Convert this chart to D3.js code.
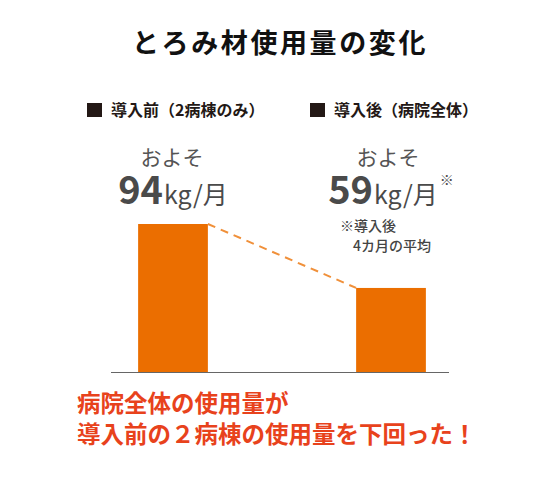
<!DOCTYPE html>
<html lang="ja">
<head>
<meta charset="utf-8">
<script src="https://cdn.jsdelivr.net/npm/d3@7"></script>
<style>
  html, body { margin: 0; padding: 0; background: #fff; }
  svg { display: block; font-family: "Noto Sans CJK JP", "Noto Sans", sans-serif; }
</style>
</head>
<body>
<div id="chart"></div>
<script>
// とろみ材使用量の変化 - 導入前 / 導入後

const categories = ["導入前", "導入後"];
const legendLabels = ["導入前（2病棟のみ）", "導入後（病院全体）"];
const values = [94, 59];
const unit = "kg/月";
const prefix = "およそ";
const marks = ["", "※"];
const noteLines = ["※導入後", "4カ月の平均"];
const title = "とろみ材使用量の変化";
const conclusion = ["病院全体の使用量が", "導入前の２病棟の使用量を下回った！"];

const width = 560;
const height = 480;
const baseY = 372;

const svg = d3.select("#chart").append("svg")
    .attr("width", width)
    .attr("height", height)
    .attr("viewBox", `0 0 ${width} ${height}`);

const xScale = d3.scaleBand()
    .domain(categories)
    .range([64, 500])
    .paddingInner(0.68)
    .paddingOuter(0.34);

// value axis does not start at zero in the original artwork
const yScale = d3.scaleLinear()
    .domain([13, 94])
    .range([baseY, 224]);

// Title
svg.append("text")
    .attr("x", 280)
    .attr("y", 53)
    .attr("text-anchor", "middle")
    .attr("font-size", 27)
    .attr("font-weight", 700)
    .attr("letter-spacing", 2.6)
    .attr("fill", "#111")
    .text(title);

// Legend labels
const legendX = [87, 310];
const legend = svg.selectAll(".legend")
    .data(legendLabels)
    .enter()
    .append("g")
    .attr("class", "legend")
    .attr("transform", (d, i) => `translate(${legendX[i]},0)`);

legend.append("rect")
    .attr("x", 0)
    .attr("y", 103)
    .attr("width", 15)
    .attr("height", 14)
    .attr("fill", "#231815");

legend.append("text")
    .attr("x", 24)
    .attr("y", 116)
    .attr("font-size", 16)
    .attr("font-weight", 700)
    .attr("fill", "#231815")
    .text(d => d);

// Bars
svg.selectAll(".bar")
    .data(values)
    .enter()
    .append("rect")
    .attr("class", "bar")
    .attr("x", (d, i) => xScale(categories[i]))
    .attr("y", d => yScale(d))
    .attr("width", xScale.bandwidth())
    .attr("height", d => baseY - yScale(d))
    .attr("fill", "#eb6e00");

// Dashed connector between bar tops
svg.append("line")
    .attr("x1", xScale(categories[0]) + xScale.bandwidth())
    .attr("y1", yScale(values[0]))
    .attr("x2", xScale(categories[1]))
    .attr("y2", yScale(values[1]))
    .attr("stroke", "#f0903a")
    .attr("stroke-width", 2)
    .attr("stroke-dasharray", "8,6");

// Baseline
svg.append("line")
    .attr("x1", 111)
    .attr("x2", 449)
    .attr("y1", baseY + 0.5)
    .attr("y2", baseY + 0.5)
    .attr("stroke", "#666")
    .attr("stroke-width", 1.2);

// Value labels
const labels = svg.selectAll(".value-label")
    .data(values)
    .enter()
    .append("g")
    .attr("class", "value-label")
    .attr("transform", (d, i) => `translate(${xScale(categories[i]) + xScale.bandwidth() / 2},0)`);

labels.append("text")
    .attr("x", (d, i) => i === 0 ? -1 : -3)
    .attr("y", 165)
    .attr("text-anchor", "middle")
    .attr("font-size", 21)
    .attr("fill", "#555")
    .text(prefix);

const valueText = labels.append("text")
    .attr("x", 0)
    .attr("y", 204)
    .attr("text-anchor", "middle")
    .attr("fill", "#4a4a4a");

valueText.append("tspan")
    .attr("font-size", 38)
    .attr("font-weight", 700)
    .text(d => d);

valueText.append("tspan")
    .attr("font-size", 25)
    .attr("font-weight", 400)
    .attr("dx", 1)
    .text(unit);

valueText.append("tspan")
    .attr("font-size", 14)
    .attr("dx", 2)
    .attr("dy", -19)
    .text((d, i) => marks[i]);

// Footnote
svg.selectAll(".note")
    .data(noteLines)
    .enter()
    .append("text")
    .attr("class", "note")
    .attr("x", (d, i) => i === 0 ? 340 : 353)
    .attr("y", (d, i) => 231 + i * 20)
    .attr("font-size", 14)
    .attr("font-weight", 500)
    .attr("fill", "#444")
    .text(d => d);

// Conclusion
svg.selectAll(".conclusion")
    .data(conclusion)
    .enter()
    .append("text")
    .attr("class", "conclusion")
    .attr("x", 77)
    .attr("y", (d, i) => 412 + i * 31)
    .attr("font-size", 23.5)
    .attr("font-weight", 700)
    .attr("fill", "#e8421c")
    .text(d => d);
</script>
</body>
</html>
